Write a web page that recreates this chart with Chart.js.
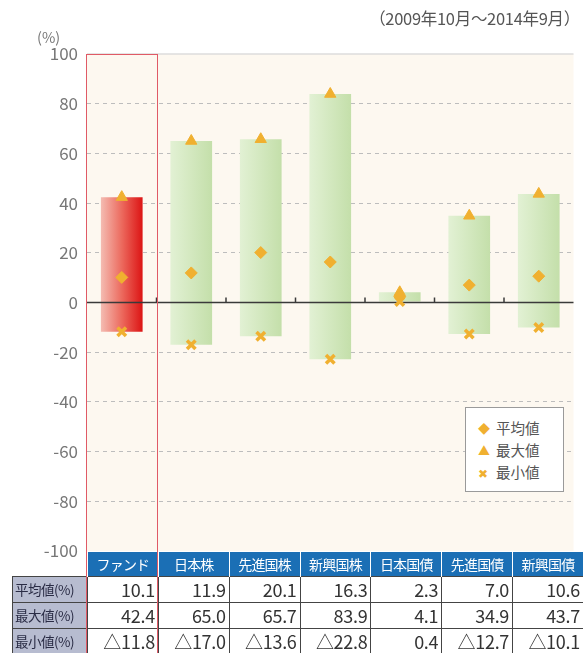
<!DOCTYPE html>
<html><head><meta charset="utf-8">
<script src="https://cdn.jsdelivr.net/npm/chart.js@4.4.1/dist/chart.umd.min.js"></script>
<style>
html,body{margin:0;padding:0;background:#fff;}
body{width:583px;height:653px;position:relative;overflow:hidden;font-family:"Noto Sans CJK JP","Noto Sans",sans-serif;}
#c{position:absolute;left:0;top:0;}
#period{position:absolute;right:3px;top:6px;font-size:16.5px;color:#555;letter-spacing:-0.3px;}
#unit{position:absolute;left:37px;top:26px;font-size:14.5px;color:#777;}
#legend{position:absolute;left:465px;top:407px;width:99px;height:85px;border:1px solid #9a9a9a;background:#fff;box-sizing:border-box;padding:9px 0 0 12px;}
#legend div{font-size:14.5px;color:#555;height:22px;line-height:22px;white-space:nowrap;}
#legend span.g{display:inline-block;width:18px;color:#f0b030;font-size:12px;}
#tbl{position:absolute;left:12px;top:552px;border-collapse:collapse;table-layout:fixed;width:571px;}
#tbl td{padding:0;box-sizing:border-box;line-height:20px;overflow:hidden;white-space:nowrap;}
#tbl tr.h td{height:24px;background:#1b6fb5;color:#fff;font-size:14px;text-align:center;border-left:1px solid #fff;border-right:1px solid #fff;letter-spacing:-0.8px;}
#tbl tr.h td.lab{background:transparent;border:none;}
#tbl tr.d td{height:26px;border:1px solid #444;font-size:18px;color:#333;text-align:right;padding-right:3px;background:#fff;letter-spacing:-0.3px;}
#tbl tr.d.last td{height:25px;}
#tbl tr.d td.lab{background:#b7bcd0;color:#2a2c45;font-size:13.5px;text-align:left;padding-left:2px;letter-spacing:-0.5px;}
#redbox{position:absolute;left:86px;top:54px;width:72px;height:601px;border:1.5px solid #e05a66;box-sizing:border-box;pointer-events:none;}
</style>
</head><body>
<canvas id="c" width="583" height="653"></canvas>
<div id="period"></div>
<div id="unit"></div>
<div id="legend"></div>
<table id="tbl"></table>
<div id="redbox"></div>
<script>
const categories = ['ファンド','日本株','先進国株','新興国株','日本国債','先進国債','新興国債'];
const meanValues = [10.1, 11.9, 20.1, 16.3, 2.3, 7.0, 10.6];
const maxValues  = [42.4, 65.0, 65.7, 83.9, 4.1, 34.9, 43.7];
const minValues  = [-11.8, -17.0, -13.6, -22.8, 0.4, -12.7, -10.1];
const legendLabels = ['平均値','最大値','最小値'];
const rowLabels = ['平均値(%)','最大値(%)','最小値(%)'];
const periodLabel = '（2009年10月～2014年9月）';
const unitLabel = '(%)';
const yMin = -100, yMax = 100, yStep = 20;

const markerColor = '#f0b030';

document.getElementById('period').textContent = periodLabel;
document.getElementById('unit').textContent = unitLabel;

// legend
const glyphs = ['◆','▲','✖'];
document.getElementById('legend').innerHTML = legendLabels.map((l,i)=>
  '<div><span class="g">'+glyphs[i]+'</span>'+l+'</div>').join('');

// table
function fmt(v){ return v<0 ? '△'+Math.abs(v).toFixed(1) : v.toFixed(1); }
let html = '<colgroup><col style="width:75px">' + categories.map(()=>'<col style="width:70.857px">').join('') + '</colgroup>';
html += '<tr class="h"><td class="lab"></td>' + categories.map(c=>'<td>'+c+'</td>').join('') + '</tr>';
[meanValues, maxValues, minValues].forEach((arr,r)=>{
  html += '<tr class="d'+(r===2?' last':'')+'"><td class="lab">'+rowLabels[r]+'</td>' + arr.map(v=>'<td>'+fmt(v)+'</td>').join('') + '</tr>';
});
document.getElementById('tbl').innerHTML = html;

const ranges = categories.map((c,i)=>[minValues[i], maxValues[i]]);

function barFill(ctx){
  const chart = ctx.chart;
  const isFund = ctx.dataIndex === 0;
  const xs = chart.scales && chart.scales.x;
  if(!chart.chartArea || !xs) return isFund ? '#e8443c' : '#cfe6b8';
  const cx = xs.getPixelForValue(ctx.dataIndex);
  const w = (xs.right - xs.left) / categories.length * 0.6;
  if(!isFinite(cx) || !isFinite(w)) return isFund ? '#e8443c' : '#cfe6b8';
  const g = chart.ctx.createLinearGradient(cx - w/2, 0, cx + w/2, 0);
  if(isFund){
    g.addColorStop(0, '#f4bcb2');
    g.addColorStop(0.5, '#ec6a5e');
    g.addColorStop(1, '#dc1414');
  } else {
    g.addColorStop(0, '#e2f1d4');
    g.addColorStop(1, '#c4dfaa');
  }
  return g;
}

const decor = {
  id: 'decor',
  beforeDraw(chart){
    const a = chart.chartArea, c = chart.ctx;
    c.save();
    c.fillStyle = '#fdf8f0';
    c.fillRect(a.left, a.top, a.right - a.left, a.bottom - a.top);
    const yt = chart.scales.y.getPixelForValue(yMax);
    c.strokeStyle = '#dcdcdc'; c.lineWidth = 1.5;
    c.beginPath(); c.moveTo(a.left, yt); c.lineTo(a.right, yt); c.stroke();
    c.restore();
  },
  afterDatasetDraw(chart, args){
    if(args.index !== 0) return;
    const a = chart.chartArea, c = chart.ctx;
    const xs = chart.scales.x, ys = chart.scales.y;
    const y0 = ys.getPixelForValue(0);
    c.save();
    c.strokeStyle = '#3a3a3a'; c.lineWidth = 1.5;
    c.beginPath(); c.moveTo(a.left, y0); c.lineTo(a.right, y0); c.stroke();
    for(let i=1;i<categories.length;i++){
      const xb = (xs.getPixelForValue(i-1) + xs.getPixelForValue(i)) / 2;
      c.beginPath(); c.moveTo(xb, y0); c.lineTo(xb, y0 - 5); c.stroke();
    }
    c.restore();
  }
};

new Chart(document.getElementById('c'), {
  data: {
    labels: categories,
    datasets: [
      { type:'bar', label:'range', data: ranges, backgroundColor: barFill, borderWidth:0,
        barPercentage:0.6, categoryPercentage:1.0, order:3 },
      { type:'line', label: legendLabels[0], data: meanValues, showLine:false, pointStyle:'rectRot',
        pointRadius:6, backgroundColor: markerColor, borderColor: markerColor, borderWidth:1, order:1 },
      { type:'line', label: legendLabels[1], data: maxValues, showLine:false, pointStyle:'triangle',
        pointRadius:6.5, backgroundColor: markerColor, borderColor: markerColor, borderWidth:1, order:1 },
      { type:'line', label: legendLabels[2], data: minValues, showLine:false, pointStyle:'crossRot',
        pointRadius:6, backgroundColor: markerColor, borderColor: markerColor, borderWidth:3.5, order:1 }
    ]
  },
  options: {
    responsive:false, animation:false,
    layout:{ padding:{ top:54, bottom:102, left:0, right:0 } },
    plugins:{ legend:{display:false}, tooltip:{enabled:false}, title:{display:false} },
    scales:{
      x:{ display:false, offset:true, grid:{display:false} },
      y:{
        min:yMin, max:yMax,
        ticks:{ stepSize:yStep, color:'#777', padding:9,
          font:{ family:'"Noto Sans CJK JP","Noto Sans",sans-serif', size:17 } },
        grid:{ drawTicks:false,
          color:(ctx)=> (ctx.tick && (ctx.tick.value===0 || ctx.tick.value===yMax || ctx.tick.value===yMin)) ? 'rgba(0,0,0,0)' : '#bdbdbd',
          lineWidth:1 },
        border:{ display:false, dash:[4,4] },
        afterFit(s){ s.width = 87; }
      }
    }
  },
  plugins:[decor]
});
</script>
</body></html>
